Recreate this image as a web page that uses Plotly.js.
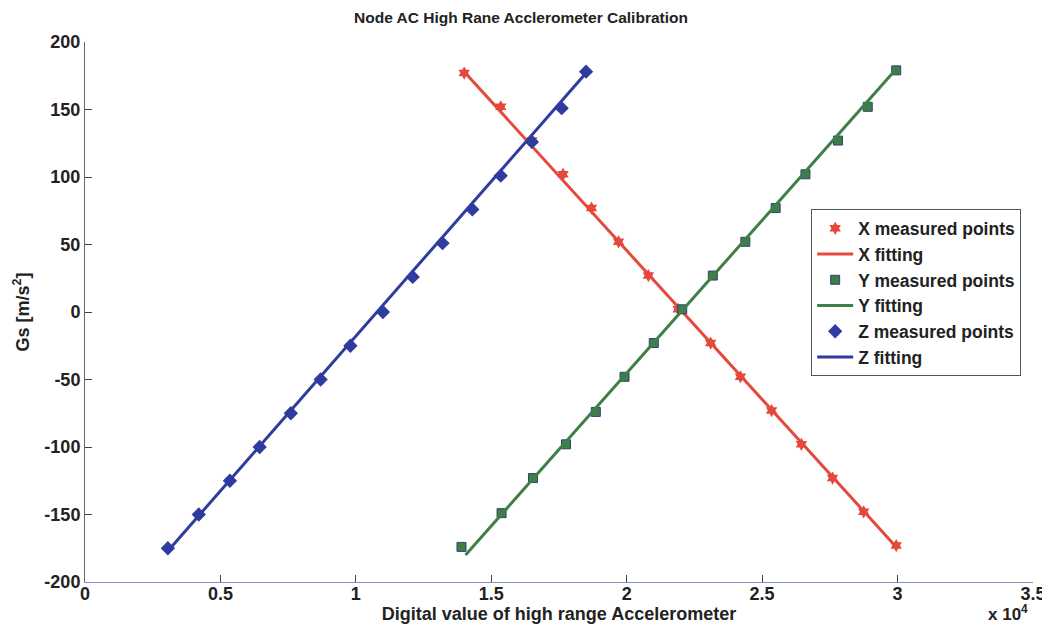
<!DOCTYPE html>
<html><head><meta charset="utf-8">
<script src="https://cdn.plot.ly/plotly-3.0.1.min.js"></script>
<style>body{margin:0;background:#fff}#c{width:1042px;height:630px}</style>
</head><body><div id="c"></div>
<script>
// Measured points (x in raw digital units, y in m/s^2)
const xMeasX = [14000,15350,16500,17650,18700,19700,20800,21900,23100,24200,25350,26450,27600,28750,29950];
const xMeasY = [177,152,127,102,77,52,27,2,-23,-48,-73,-98,-123,-148,-173];
const yMeasX = [13900,15380,16540,17760,18860,19920,21000,22050,23180,24380,25500,26600,27800,28900,29950];
const yMeasY = [-174,-149,-123,-98,-74,-48,-23,2,27,52,77,102,127,152,179];
const zMeasX = [3060,4200,5350,6450,7600,8700,9800,11000,12100,13200,14300,15350,16500,17600,18500];
const zMeasY = [-175,-150,-125,-100,-75,-50,-25,0,26,51,76,101,126,151,178];
// Fitting line endpoints
const xFitX = [14000,29950];  const xFitY = [178,-174];
const yFitX = [14050,29950];  const yFitY = [-180,180];
const zFitX = [3060,18500];   const zFitY = [-177,177];
const xTicks = [0,5000,10000,15000,20000,25000,30000,35000];
const xTickText = ['0','0.5','1','1.5','2','2.5','3','3.5'];
const yTicks = [-200,-150,-100,-50,0,50,100,150,200];
const yTickText = ['-200','-150','-100','-50','0','50','100','150','200'];

const RED='#e5483d', GREEN='#3d7f47', BLUE='#2f3b9e';
const F='Liberation Sans, Arial, sans-serif';
const b = s => '<b>'+s+'</b>';

const traces = [
 {x:xMeasX,y:xMeasY,mode:'markers',name:b('X measured points'),marker:{symbol:'hexagram',size:10,color:RED}},
 {x:xFitX,y:xFitY,mode:'lines',name:b('X fitting'),line:{color:RED,width:3}},
 {x:yMeasX,y:yMeasY,mode:'markers',name:b('Y measured points'),marker:{symbol:'square',size:9,color:GREEN,line:{color:'#34407a',width:1}}},
 {x:yFitX,y:yFitY,mode:'lines',name:b('Y fitting'),line:{color:GREEN,width:3}},
 {x:zMeasX,y:zMeasY,mode:'markers',name:b('Z measured points'),marker:{symbol:'diamond',size:11,color:BLUE}},
 {x:zFitX,y:zFitY,mode:'lines',name:b('Z fitting'),line:{color:BLUE,width:3}}
];

const layout = {
 width:1042,height:630,
 margin:{l:85,r:9,t:42,b:48},
 paper_bgcolor:'#fff',plot_bgcolor:'#fff',
 font:{family:F,color:'#222'},
 title:{text:b('Node AC High Rane Acclerometer Calibration'),font:{size:15.5,family:F,color:'#222'},x:0.5,xanchor:'center',y:0.972,yanchor:'middle'},
 showlegend:true,
 legend:{x:0.766,y:0.69,xanchor:'left',yanchor:'top',bgcolor:'#fff',bordercolor:'#555',borderwidth:1,itemwidth:36,font:{size:17.5,family:F,color:'#222'},tracegroupgap:0},
 xaxis:{range:[0,35001],tickvals:xTicks,ticktext:xTickText.map(b),ticks:'inside',ticklen:7,tickcolor:'#444',
   showgrid:false,zeroline:false,showline:true,linecolor:'#7f93bd',linewidth:1.2,ticklabeloverflow:'allow',
   ticklabelstandoff:-5,
   tickfont:{size:18,family:F,color:'#222'},
   title:{text:b('Digital value of high range Accelerometer'),font:{size:18,family:F,color:'#222'},standoff:0}},
 yaxis:{range:[-200,200],tickvals:yTicks,ticktext:yTickText.map(b),ticks:'inside',ticklen:7,tickcolor:'#444',
   showgrid:false,zeroline:false,showline:true,linecolor:'#666',linewidth:1,
   tickfont:{size:18,family:F,color:'#222'},
   title:{text:b('Gs [m/s<sup>2</sup>]'),font:{size:18,family:F,color:'#222'},standoff:10}},
 annotations:[{xref:'paper',yref:'paper',x:0.997,y:-0.058,xanchor:'right',yanchor:'middle',showarrow:false,
   text:b('x 10<sup>4</sup>'),font:{size:17,family:F,color:'#222'}}]
};
Plotly.newPlot('c',traces,layout,{displayModeBar:false,staticPlot:true});
</script></body></html>
